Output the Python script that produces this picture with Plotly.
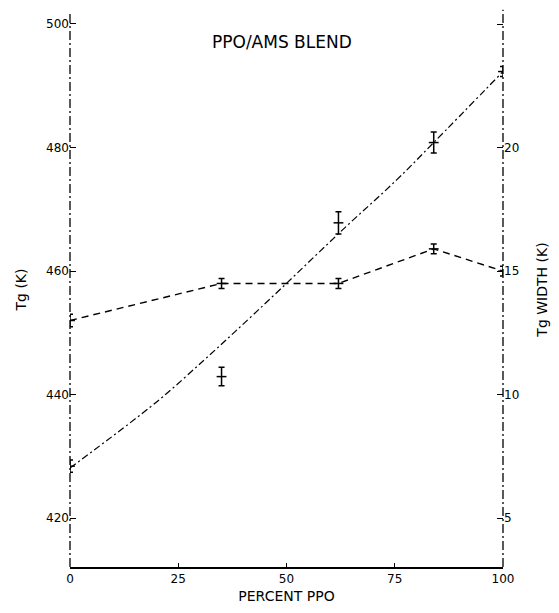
import plotly.graph_objects as go

# Data
pct = [0, 35, 62, 84, 100]
tg = [428.4, 442.9, 467.8, 480.8, 492.3]
tg_err = [1.0, 1.5, 1.8, 1.7, 0.8]

fit_pct = [0, 20, 31, 38, 48.5, 63, 75.5, 84, 100]
fit_tg = [428.1, 438.8, 445.6, 450.1, 457.0, 466.7, 474.8, 480.8, 492.3]

width = [13.0, 14.5, 14.5, 15.9, 15.0]
width_err = [0.25, 0.2, 0.2, 0.2, 0.2]

x_ticks = [0, 25, 50, 75, 100]
left_ticks = [420, 440, 460, 480, 500]
right_ticks = [5, 10, 15, 20, 25]
right_text = ["5", "10", "15", "20", ""]

FONT = "DejaVu Sans"

fig = go.Figure()

fig.add_trace(go.Scatter(
    x=fit_pct, y=fit_tg, mode="lines", line=dict(color="black", width=1.2, dash="7px,3px,2px,3px"),
    line_shape="spline", showlegend=False, hoverinfo="skip"))

fig.add_trace(go.Scatter(
    x=pct, y=tg, mode="markers",
    marker=dict(symbol="line-ew-open", size=7, color="black", line=dict(width=1.5, color="black")),
    error_y=dict(type="data", array=tg_err, visible=True, color="black", thickness=1.5, width=3),
    showlegend=False))

fig.add_trace(go.Scatter(
    x=pct, y=width, mode="lines+markers", yaxis="y2",
    line=dict(color="black", width=1.4, dash="7px,5px"),
    marker=dict(symbol="line-ew-open", size=7, color="black", line=dict(width=1.5, color="black")),
    error_y=dict(type="data", array=width_err, visible=True, color="black", thickness=1.5, width=3),
    showlegend=False))

# Axis lines (left/right appear broken in the scan)
fig.add_shape(type="line", xref="x domain", yref="y domain", x0=0, x1=0, y0=0, y1=1,
              line=dict(color="black", width=1.3, dash="9px,3px,2px,3px"))
fig.add_shape(type="line", xref="x domain", yref="y domain", x0=1, x1=1, y0=0, y1=1.004,
              line=dict(color="black", width=1.3, dash="9px,3px,2px,3px"))

fig.add_annotation(text="PPO/AMS BLEND", x=49, y=0.967, xref="x", yref="paper",
                   showarrow=False, font=dict(family=FONT, size=17, color="black"))

fig.update_layout(
    width=559, height=613,
    margin=dict(l=70, r=56, t=12, b=46),
    paper_bgcolor="white", plot_bgcolor="white",
    font=dict(family=FONT, size=12, color="black"),
    xaxis=dict(range=[0, 100], tickvals=x_ticks, ticks="inside", ticklen=4, tickcolor="black",
               showline=True, linecolor="black", linewidth=1.5, showgrid=False, zeroline=False,
               automargin=False,
               title=dict(text="PERCENT PPO", font=dict(size=14), standoff=6),
               tickfont=dict(size=12)),
    yaxis=dict(range=[412.07, 501.94], tickvals=left_ticks, ticks="inside", ticklen=6, tickcolor="black",
               showline=False, showgrid=False, zeroline=False, automargin=False,
               title=dict(text="Tg (K)", font=dict(size=14), standoff=16),
               tickfont=dict(size=12)),
    yaxis2=dict(range=[3.02, 25.49], overlaying="y", side="right", tickvals=right_ticks, ticktext=right_text,
                ticks="inside", ticklen=6, tickcolor="black", showline=False, showgrid=False, zeroline=False,
                automargin=False,
                title=dict(text="Tg WIDTH (K)", font=dict(size=14), standoff=18),
                tickfont=dict(size=12)),
)

fig.write_html("out.html")
